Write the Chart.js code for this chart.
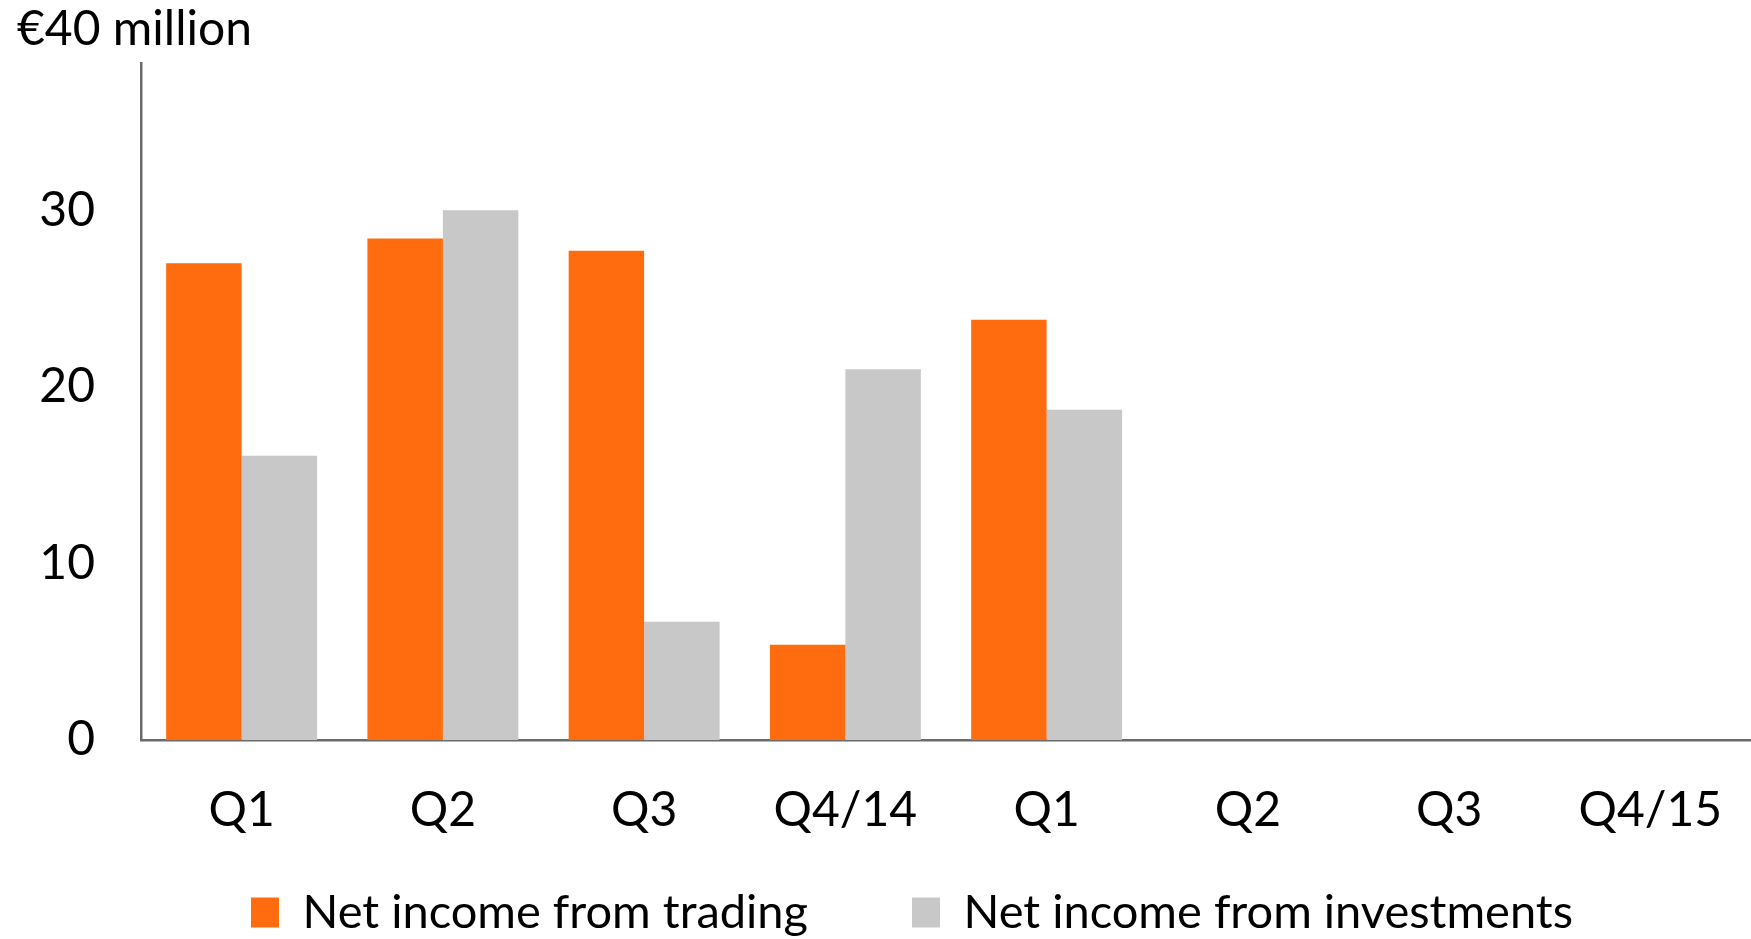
<!DOCTYPE html>
<html>
<head>
<meta charset="utf-8">
<script src="https://cdn.jsdelivr.net/npm/chart.js@4"></script>
<style>
  html, body { margin: 0; padding: 0; background: #fff; overflow: hidden; }
  canvas { display: block; }
</style>
</head>
<body>
<canvas id="incomeChart" width="1751" height="1001"></canvas>
<script>
// Quarterly values, € million
const quarters = ["Q1", "Q2", "Q3", "Q4/14", "Q1", "Q2", "Q3", "Q4/15"];
const tradingIncome = [27.0, 28.4, 27.7, 5.4, 23.8, null, null, null];
const investmentIncome = [16.1, 30.0, 6.7, 21.0, 18.7, null, null, null];
const yTicks = [0, 10, 20, 30];
const unitLabel = "€40 million";

const colors = {
  orange: "#FF6C10",
  grey: "#C8C8C8",
  axis: "#6B6B6B"
};

Chart.defaults.font.family = "Lato, 'Noto Sans', sans-serif";
Chart.defaults.font.size = 48;
Chart.defaults.color = "#000";

// nudge the legend so it sits like in the original slide
// (page is cropped at 939px, like the source image)
const legendNudge = {
  id: "legendNudge",
  afterLayout(chart) {
    const lg = chart.legend;
    lg.top -= 55; lg.bottom -= 55;
    lg.left += 28; lg.right += 28;
  }
};

new Chart(document.getElementById("incomeChart"), {
  type: "bar",
  data: {
    labels: quarters,
    datasets: [
      {
        label: "Net income from trading",
        data: tradingIncome,
        backgroundColor: colors.orange,
        borderWidth: 0
      },
      {
        label: "Net income from investments",
        data: investmentIncome,
        backgroundColor: colors.grey,
        borderWidth: 0
      }
    ]
  },
  options: {
    responsive: false,
    devicePixelRatio: 1,
    animation: false,
    layout: { padding: { left: 17, top: 0, right: 0, bottom: 0 } },
    datasets: { bar: { categoryPercentage: 0.75, barPercentage: 1.0 } },
    plugins: {
      tooltip: { enabled: false },
      title: {
        display: true,
        text: unitLabel,
        align: "start",
        color: "#000",
        font: { size: 48, weight: "normal" },
        padding: { top: 1, bottom: 5 }
      },
      legend: {
        position: "bottom",
        labels: {
          boxWidth: 28,
          boxHeight: 30,
          padding: 104,
          color: "#000",
          font: { size: 47 }
        }
      }
    },
    scales: {
      x: {
        grid: { display: false, drawTicks: false },
        border: { display: true, color: colors.axis, width: 2.5 },
        ticks: { padding: 42, maxRotation: 0, autoSkip: false },
        afterFit: s => { s.height = 100; s.paddingLeft = 0; s.paddingRight = 0; }
      },
      y: {
        min: 0,
        max: 38.3,
        afterBuildTicks: s => { s.ticks = yTicks.map(v => ({ value: v })); },
        grid: { display: false, drawTicks: false },
        border: { display: true, color: colors.axis, width: 2.5 },
        ticks: { padding: 46 },
        afterFit: s => { s.width = 124; s.paddingTop = 0; s.paddingBottom = 0; }
      }
    }
  },
  plugins: [legendNudge]
});
</script>
</body>
</html>
